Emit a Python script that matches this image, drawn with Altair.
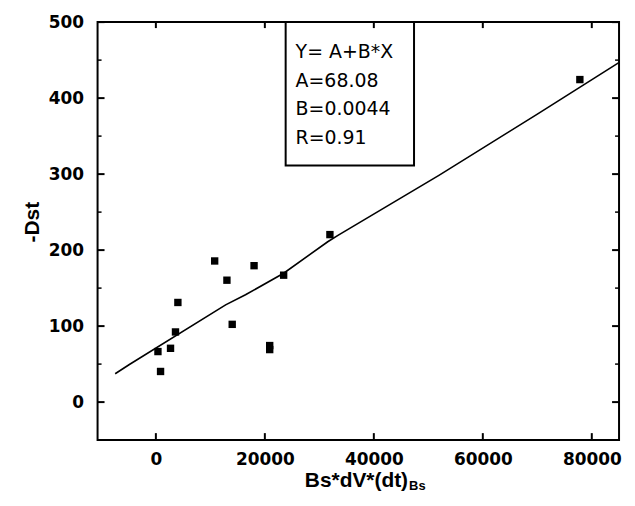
import altair as alt
import pandas as pd

# data points
x_vals = [380, 860, 2690, 3600, 4040, 10790, 13040, 14010, 18020, 20890, 20890, 23450, 31940, 77810]
y_vals = [66.5, 40.3, 70.8, 92.3, 131.1, 185.7, 160.4, 102.3, 179.5, 74.4, 69.1, 167, 220.4, 424.4]

# fitted line, points
fit_x = [-7470, -4860, 12800, 16450, 23450, 31540, 33490, 51940, 70010, 84960]
fit_y = [37.3, 49.5, 128, 141.2, 169.6, 211, 219.7, 298.3, 379, 446.7]

x_major = [0, 20000, 40000, 60000, 80000]
y_major = [0, 100, 200, 300, 400, 500]
y_minor = [50, 150, 250, 350, 450]

box_lines = ["Y= A+B*X", "A=68.08", "B=0.0044", "R=0.91"]

W, H = 524, 420
FONT = "Liberation Sans"
LFONT = "DejaVu Sans"
TC = "black"

xscale = alt.Scale(domain=[-10700, 85000], nice=False, zero=False)
yscale = alt.Scale(domain=[-50, 500], nice=False, zero=False)
xaxis = alt.Axis(values=x_major, ticks=False, domain=False, grid=False, title=None,
                 labelFont=LFONT, labelFontSize=17, labelFontWeight="bold",
                 labelColor="black", labelPadding=12, format="d", labelFlush=False)
yaxis = alt.Axis(values=y_major, ticks=False, domain=False, grid=False, title=None,
                 labelFont=LFONT, labelFontSize=17, labelFontWeight="bold",
                 labelColor="black", labelPadding=14, format="d")

X = alt.X("x:Q", scale=xscale, axis=xaxis)
Y = alt.Y("y:Q", scale=yscale, axis=yaxis)

pts = pd.DataFrame({"x": x_vals, "y": y_vals})
fit = pd.DataFrame({"x": fit_x, "y": fit_y})
xm = pd.DataFrame({"x": x_major})
ym = pd.DataFrame({"y": y_major})
yn = pd.DataFrame({"y": y_minor})
one = pd.DataFrame({"a": [0]})

points = alt.Chart(pts).mark_square(size=55, color="black", opacity=1).encode(x=X, y=Y)
line = alt.Chart(fit).mark_line(color="black", strokeWidth=1.6).encode(x=X, y=Y)

# inward ticks on all four sides
bt = alt.Chart(xm).mark_rule(color=TC, strokeWidth=2).encode(
    x=X, y=alt.value(H), y2=alt.value(H - 7))
tt = alt.Chart(xm).mark_rule(color=TC, strokeWidth=2).encode(
    x=X, y=alt.value(0), y2=alt.value(6))
lt = alt.Chart(ym).mark_rule(color=TC, strokeWidth=2).encode(
    y=Y, x=alt.value(0), x2=alt.value(7))
rt = alt.Chart(ym).mark_rule(color=TC, strokeWidth=2).encode(
    y=Y, x=alt.value(W), x2=alt.value(W - 7))
ln = alt.Chart(yn).mark_rule(color=TC, strokeWidth=1.5).encode(
    y=Y, x=alt.value(0), x2=alt.value(4))
rn = alt.Chart(yn).mark_rule(color=TC, strokeWidth=1.5).encode(
    y=Y, x=alt.value(W), x2=alt.value(W - 4))

frame = alt.Chart(one).mark_rect(fill=None, stroke="black", strokeWidth=2).encode(
    x=alt.value(0), x2=alt.value(W), y=alt.value(0), y2=alt.value(H))

box = alt.Chart(one).mark_rect(fill="white", stroke="black", strokeWidth=2).encode(
    x=alt.value(189), x2=alt.value(318), y=alt.value(0), y2=alt.value(144))
box_text = alt.Chart(one).mark_text(
    align="left", baseline="alphabetic", font=LFONT, fontSize=19, lineHeight=28.8, color="black"
).encode(x=alt.value(199), y=alt.value(36), text=alt.value(box_lines))

ytitle = alt.Chart(one).mark_text(
    angle=270, align="center", baseline="middle", font=FONT, fontSize=21, fontWeight="bold", color="black"
).encode(x=alt.value(-65), y=alt.value(201), text=alt.value("-Dst"))
xtitle = alt.Chart(one).mark_text(
    align="right", baseline="alphabetic", font=FONT, fontSize=21, fontWeight="bold", color="black"
).encode(x=alt.value(312), y=alt.value(467), text=alt.value("Bs*dV*(dt)"))
xsub = alt.Chart(one).mark_text(
    align="left", baseline="alphabetic", font=FONT, fontSize=13, fontWeight="bold", color="black"
).encode(x=alt.value(313), y=alt.value(470), text=alt.value("Bs"))

chart = alt.layer(
    points, box, box_text, frame, bt, tt, lt, rt, ln, rn, line, ytitle, xtitle, xsub
).properties(
    width=W, height=H,
    padding={"left": 14, "top": 4, "right": 5, "bottom": 4},
    background="white",
).configure_view(stroke=None)

chart.save("out.html", embed_options={"renderer": "svg", "actions": False})
